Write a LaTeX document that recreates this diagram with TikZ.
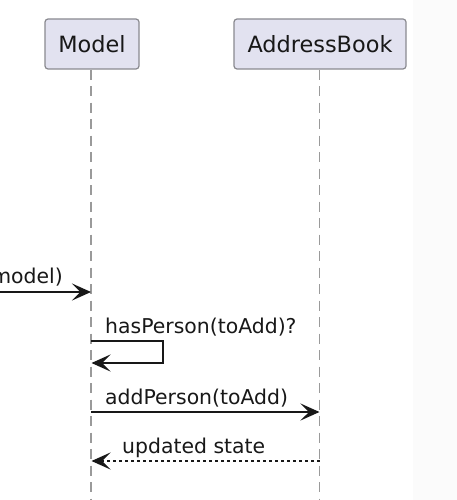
\documentclass[tikz,border=0pt]{standalone}
\usepackage{fontspec}
\setmainfont{DejaVu Sans}
\usetikzlibrary{arrows.meta}
\definecolor{partfill}{HTML}{E2E2F0}
\definecolor{partdraw}{HTML}{8A8A90}
\definecolor{ink}{HTML}{181818}
\definecolor{lifegray}{HTML}{9A9A9A}
\begin{document}
\begin{tikzpicture}[x=1pt,y=-1pt,
  part/.style={draw=partdraw, fill=partfill, line width=1.2pt, rounded corners=3pt,
    minimum height=50pt, inner sep=0pt, font=\fontsize{22.4}{26}\selectfont, text=ink},
  life/.style={draw=lifegray, line width=1.1pt, dash pattern=on 10pt off 6.5pt},
  msg/.style={line width=1.4pt, draw=ink, -{Stealth[length=19pt,width=17pt,inset=8.5pt]}},
  ret/.style={msg, dash pattern=on 3pt off 3pt},
  lbl/.style={font=\fontsize{20.4}{24}\selectfont, inner sep=0pt, text=ink}]
\useasboundingbox (0,0) rectangle (457,500);
\fill[white] (0,0) rectangle (457,500);
\fill[black!1.5] (413,0) rectangle (457,500);
% participants
\node[part, minimum width=94pt] (model) at (92,44) {Model};
\node[part, minimum width=172pt] (ab) at (320,44) {AddressBook};
% lifelines
\coordinate (mtop) at (91,69.6);
\coordinate (mbot) at (91,500);
\coordinate (atop) at (319.5,69.6);
\coordinate (abot) at (319.5,500);
\draw[life] (mtop) -- (mbot);
\draw[life] (atop) -- (abot);
% incoming message
\coordinate (in0) at (-2,292);
\coordinate (m1) at (91,292);
\draw[msg] (in0) -- (m1);
\node[lbl, anchor=base east] (l1) at (63,283) {model)};
% self message
\coordinate (s1) at (91,341);
\coordinate (s2) at (163,341);
\coordinate (s3) at (163,363);
\coordinate (s4) at (91.5,363);
\draw[msg] (s1) -- (s2) -- (s3) -- (s4);
\node[lbl, anchor=base west] (l2) at (105,333) {hasPerson(toAdd)?};
% addPerson
\coordinate (m3) at (91,412);
\coordinate (a3) at (319.5,412);
\draw[msg] (m3) -- (a3);
\node[lbl, anchor=base west] (l3) at (105,404) {addPerson(toAdd)};
% return
\coordinate (a4) at (319.5,461);
\coordinate (m4) at (91.5,461);
\draw[ret] (a4) -- (m4);
\node[lbl, anchor=base west] (l4) at (122,453) {updated state};
\end{tikzpicture}
\end{document}
